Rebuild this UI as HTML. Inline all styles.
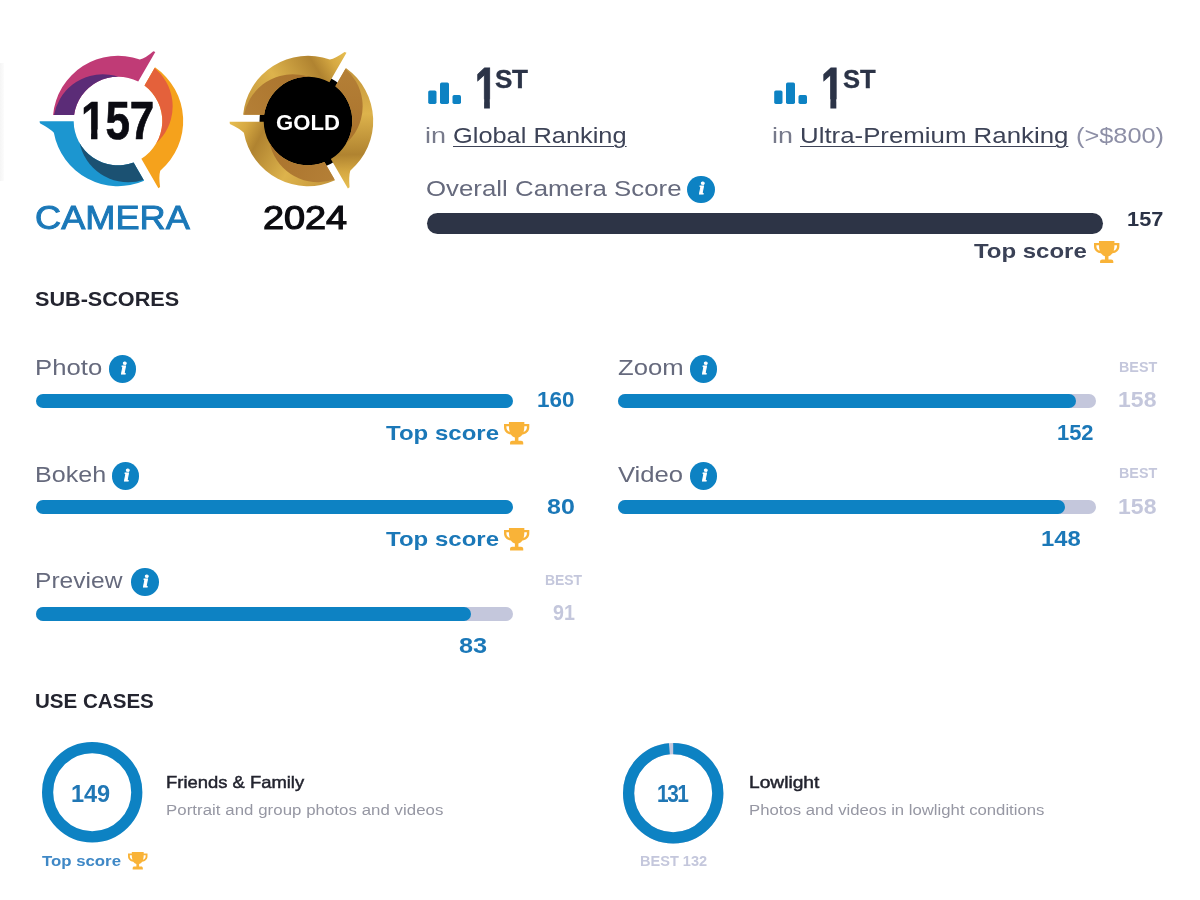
<!DOCTYPE html>
<html lang="en"><head><meta charset="utf-8"><title>Camera score</title>
<style>
html,body{margin:0;padding:0;background:#fff;}
body{width:1200px;height:900px;position:relative;overflow:hidden;font-family:"Liberation Sans",sans-serif;}
.t{position:absolute;white-space:nowrap;margin:0;padding:0;transform-origin:0 50%;}
.abs{position:absolute;overflow:visible;}
.bar{position:absolute;}
.info{position:absolute;border-radius:50%;background:#0d82c3;color:#fff;text-align:center;}
.info span{position:absolute;left:0;right:0;top:50%;transform:translate(0.8px,-50%) scaleX(1.15);font-family:"Liberation Serif",serif;font-style:italic;font-weight:700;font-size:16.5px;line-height:1;-webkit-text-stroke:0.8px #fff;}
.edge{position:absolute;left:0;top:63px;width:4px;height:118px;background:linear-gradient(90deg,#f5f5f5,#fcfcfc);}
</style></head><body>
<div class="edge"></div>
<svg class="abs" style="left:33.40px;top:35.80px" width="170" height="170" viewBox="-85 -85 170 170"><defs><clipPath id="clc0"><path d="M-78.40 0.20 L-44.30 0.20 A44.3 44.3 0 0 0 15.62 41.45 L26.17 59.72 A65.2 65.2 0 0 1 -64.13 11.77 Q-68.13 7.57 -78.10 2.30 Z"/></clipPath><clipPath id="clc1"><path d="M-78.40 2.20 L-44.25 2.20 A44.3 44.3 0 0 0 16.75 41.01 L27.27 59.23 A65.2 65.2 0 0 1 -64.13 11.77 Q-68.13 7.57 -78.10 4.30 Z"/></clipPath><clipPath id="clc2"><path d="M-78.40 1.40 L-44.28 1.40 A44.3 44.3 0 0 0 17.49 40.70 L27.99 58.88 A65.2 65.2 0 0 1 -64.13 11.77 Q-68.13 7.57 -78.10 3.50 Z"/></clipPath></defs><g transform="rotate(0)"><path d="M-78.40 0.20 L-44.30 0.20 A44.3 44.3 0 0 0 15.62 41.45 L26.17 59.72 A65.2 65.2 0 0 1 -64.13 11.77 Q-68.13 7.57 -78.10 2.30 Z" fill="#1c96d0"/><circle cx="10.17" cy="11.7" r="49.6" fill="#1b5172" clip-path="url(#clc0)"/></g><g transform="rotate(120)"><path d="M-78.40 2.20 L-44.25 2.20 A44.3 44.3 0 0 0 16.75 41.01 L27.27 59.23 A65.2 65.2 0 0 1 -64.13 11.77 Q-68.13 7.57 -78.10 4.30 Z" fill="#c03b76"/><circle cx="10.17" cy="11.7" r="49.6" fill="#5b2c77" clip-path="url(#clc1)"/></g><g transform="rotate(240)"><path d="M-78.40 1.40 L-44.28 1.40 A44.3 44.3 0 0 0 17.49 40.70 L27.99 58.88 A65.2 65.2 0 0 1 -64.13 11.77 Q-68.13 7.57 -78.10 3.50 Z" fill="#f5a21c"/><circle cx="10.17" cy="11.7" r="49.6" fill="#e4613b" clip-path="url(#clc2)"/></g></svg>
<svg class="abs" style="left:222.90px;top:35.70px" width="170" height="170" viewBox="-85 -85 170 170"><defs><clipPath id="glc0"><path d="M-78.40 0.80 L-44.29 0.80 A44.3 44.3 0 0 0 16.47 41.12 L26.99 59.35 A65.2 65.2 0 0 1 -64.13 11.77 Q-68.13 7.57 -78.10 2.90 Z"/></clipPath><clipPath id="glc1"><path d="M-78.40 0.80 L-44.29 0.80 A44.3 44.3 0 0 0 16.47 41.12 L26.99 59.35 A65.2 65.2 0 0 1 -64.13 11.77 Q-68.13 7.57 -78.10 2.90 Z"/></clipPath><clipPath id="glc2"><path d="M-78.40 0.80 L-44.29 0.80 A44.3 44.3 0 0 0 16.47 41.12 L26.99 59.35 A65.2 65.2 0 0 1 -64.13 11.77 Q-68.13 7.57 -78.10 2.90 Z"/></clipPath><linearGradient id="gg0" gradientUnits="userSpaceOnUse" x1="-74" y1="-6" x2="34" y2="52"><stop offset="0" stop-color="#e6bd50"/><stop offset="0.13" stop-color="#d6a942"/><stop offset="0.27" stop-color="#b08330"/><stop offset="0.6" stop-color="#ddb34c"/><stop offset="1" stop-color="#c2933a"/></linearGradient><linearGradient id="gg1" gradientUnits="userSpaceOnUse" x1="-40" y1="20" x2="25" y2="55"><stop offset="0" stop-color="#a9722c"/><stop offset="1" stop-color="#b47f36"/></linearGradient></defs><circle r="48.5" fill="#000"/><g transform="rotate(0)"><path d="M-78.40 0.80 L-44.29 0.80 A44.3 44.3 0 0 0 16.47 41.12 L26.99 59.35 A65.2 65.2 0 0 1 -64.13 11.77 Q-68.13 7.57 -78.10 2.90 Z" fill="url(#gg0)"/><circle cx="10.17" cy="11.7" r="49.6" fill="url(#gg1)" clip-path="url(#glc0)"/></g><g transform="rotate(120)"><path d="M-78.40 0.80 L-44.29 0.80 A44.3 44.3 0 0 0 16.47 41.12 L26.99 59.35 A65.2 65.2 0 0 1 -64.13 11.77 Q-68.13 7.57 -78.10 2.90 Z" fill="url(#gg0)"/><circle cx="10.17" cy="11.7" r="49.6" fill="url(#gg1)" clip-path="url(#glc1)"/></g><g transform="rotate(240)"><path d="M-78.40 0.80 L-44.29 0.80 A44.3 44.3 0 0 0 16.47 41.12 L26.99 59.35 A65.2 65.2 0 0 1 -64.13 11.77 Q-68.13 7.57 -78.10 2.90 Z" fill="url(#gg0)"/><circle cx="10.17" cy="11.7" r="49.6" fill="url(#gg1)" clip-path="url(#glc2)"/></g><circle r="43.6" fill="#000"/></svg>
<svg class="abs" style="left:428px;top:82px" width="34" height="23" viewBox="0 0 34 23"><rect x="0.2" y="8.4" width="8.3" height="13.6" rx="1.7" fill="#0d82c3"/><rect x="12" y="0.5" width="9" height="21.5" rx="1.7" fill="#0d82c3"/><rect x="24.5" y="13" width="8.5" height="9" rx="1.7" fill="#0d82c3"/></svg>
<svg class="abs" style="left:773.7px;top:82px" width="34" height="23" viewBox="0 0 34 23"><rect x="0.2" y="8.4" width="8.3" height="13.6" rx="1.7" fill="#0d82c3"/><rect x="12" y="0.5" width="9" height="21.5" rx="1.7" fill="#0d82c3"/><rect x="24.5" y="13" width="8.5" height="9" rx="1.7" fill="#0d82c3"/></svg>
<div class="info" style="left:687.20px;top:175.60px;width:27.60px;height:27.60px;"><span>i</span></div>
<div class="bar" style="left:426.5px;top:213px;width:676px;height:21px;background:#2d3446;border-radius:10.5px"></div>
<svg class="abs" style="left:1093.8px;top:241.2px" width="25.4" height="22" viewBox="0.5 1 23 22" preserveAspectRatio="none"><path fill="#f9b338" fill-rule="evenodd" d="M5 1 H19 V3 H23.5 V6.5 C23.5 10.5 20.5 13 17.3 13.3 C16.3 14.8 15 15.8 13.6 16.3 V19.5 H16 C17.2 19.5 18 20.3 18 21.5 V23 H6 V21.5 C6 20.3 6.8 19.5 8 19.5 H10.4 V16.3 C9 15.8 7.7 14.8 6.7 13.3 C3.5 13 0.5 10.5 0.5 6.5 V3 H5 Z M5 5.2 H2.7 V6.5 C2.7 8.6 4 10.2 5.7 10.8 C5.2 9.2 5 7.3 5 5.2 Z M19 5.2 C19 7.3 18.8 9.2 18.3 10.8 C20 10.2 21.3 8.6 21.3 6.5 V5.2 Z"/></svg>
<div class="info" style="left:108.50px;top:355.00px;width:27.60px;height:27.60px;"><span>i</span></div><div class="bar" style="left:35.7px;top:394px;width:477.5px;height:14.2px;background:#0d82c3;border-radius:7.1px"></div><svg class="abs" style="left:504.3px;top:421.8px" width="25.3" height="22.4" viewBox="0.5 1 23 22" preserveAspectRatio="none"><path fill="#f9b338" fill-rule="evenodd" d="M5 1 H19 V3 H23.5 V6.5 C23.5 10.5 20.5 13 17.3 13.3 C16.3 14.8 15 15.8 13.6 16.3 V19.5 H16 C17.2 19.5 18 20.3 18 21.5 V23 H6 V21.5 C6 20.3 6.8 19.5 8 19.5 H10.4 V16.3 C9 15.8 7.7 14.8 6.7 13.3 C3.5 13 0.5 10.5 0.5 6.5 V3 H5 Z M5 5.2 H2.7 V6.5 C2.7 8.6 4 10.2 5.7 10.8 C5.2 9.2 5 7.3 5 5.2 Z M19 5.2 C19 7.3 18.8 9.2 18.3 10.8 C20 10.2 21.3 8.6 21.3 6.5 V5.2 Z"/></svg>
<div class="info" style="left:111.70px;top:462.00px;width:27.60px;height:27.60px;"><span>i</span></div><div class="bar" style="left:35.7px;top:500.2px;width:477.5px;height:14.2px;background:#0d82c3;border-radius:7.1px"></div><svg class="abs" style="left:504.3px;top:528.0px" width="25.3" height="22.4" viewBox="0.5 1 23 22" preserveAspectRatio="none"><path fill="#f9b338" fill-rule="evenodd" d="M5 1 H19 V3 H23.5 V6.5 C23.5 10.5 20.5 13 17.3 13.3 C16.3 14.8 15 15.8 13.6 16.3 V19.5 H16 C17.2 19.5 18 20.3 18 21.5 V23 H6 V21.5 C6 20.3 6.8 19.5 8 19.5 H10.4 V16.3 C9 15.8 7.7 14.8 6.7 13.3 C3.5 13 0.5 10.5 0.5 6.5 V3 H5 Z M5 5.2 H2.7 V6.5 C2.7 8.6 4 10.2 5.7 10.8 C5.2 9.2 5 7.3 5 5.2 Z M19 5.2 C19 7.3 18.8 9.2 18.3 10.8 C20 10.2 21.3 8.6 21.3 6.5 V5.2 Z"/></svg>
<div class="info" style="left:131.20px;top:568.20px;width:27.60px;height:27.60px;"><span>i</span></div><div class="bar" style="left:35.7px;top:607.2px;width:477.5px;height:14.2px;background:#c4c7dc;border-radius:7.1px"></div><div class="bar" style="left:35.7px;top:607.2px;width:435px;height:14.2px;background:#0d82c3;border-radius:7.1px"></div>
<div class="info" style="left:689.80px;top:355.20px;width:27.60px;height:27.60px;"><span>i</span></div><div class="bar" style="left:617.6px;top:394px;width:478px;height:14.2px;background:#c4c7dc;border-radius:7.1px"></div><div class="bar" style="left:617.6px;top:394px;width:458.6px;height:14.2px;background:#0d82c3;border-radius:7.1px"></div>
<div class="info" style="left:689.80px;top:462.20px;width:27.60px;height:27.60px;"><span>i</span></div><div class="bar" style="left:617.6px;top:500.2px;width:478px;height:14.2px;background:#c4c7dc;border-radius:7.1px"></div><div class="bar" style="left:617.6px;top:500.2px;width:447.5px;height:14.2px;background:#0d82c3;border-radius:7.1px"></div>
<svg class="abs" style="left:41.05px;top:741.3px" width="102.4" height="102.4" viewBox="-51.2 -51.2 102.4 102.4"><circle r="44.6" fill="none" stroke="#0d82c3" stroke-width="11.2"/></svg>
<svg class="abs" style="left:128px;top:852.3px" width="19.5" height="17.4" viewBox="0.5 1 23 22" preserveAspectRatio="none"><path fill="#f9b338" fill-rule="evenodd" d="M5 1 H19 V3 H23.5 V6.5 C23.5 10.5 20.5 13 17.3 13.3 C16.3 14.8 15 15.8 13.6 16.3 V19.5 H16 C17.2 19.5 18 20.3 18 21.5 V23 H6 V21.5 C6 20.3 6.8 19.5 8 19.5 H10.4 V16.3 C9 15.8 7.7 14.8 6.7 13.3 C3.5 13 0.5 10.5 0.5 6.5 V3 H5 Z M5 5.2 H2.7 V6.5 C2.7 8.6 4 10.2 5.7 10.8 C5.2 9.2 5 7.3 5 5.2 Z M19 5.2 C19 7.3 18.8 9.2 18.3 10.8 C20 10.2 21.3 8.6 21.3 6.5 V5.2 Z"/></svg>
<svg class="abs" style="left:621.8px;top:741.5px" width="102.4" height="102.4" viewBox="-51.2 -51.2 102.4 102.4"><circle r="44.6" fill="none" stroke="#c4c7dc" stroke-width="11.2"/><circle r="44.6" fill="none" stroke="#0d82c3" stroke-width="11.2" stroke-dasharray="275.89 280.23" transform="rotate(-90)"/></svg>
<div class="t" id="camera" style="left:34.54px;top:195.00px;font-size:32.60px;line-height:46px;letter-spacing:0.012px;font-weight:400;color:#1b78b8;transform:scale(1.1107,1);-webkit-text-stroke:0.9px #1b78b8;">CAMERA</div>
<div class="t" id="y2024" style="left:263.22px;top:195.00px;font-size:32.60px;line-height:46px;letter-spacing:-0.078px;font-weight:400;color:#0c0c10;transform:scale(1.1619,1);-webkit-text-stroke:1.15px #0c0c10;">2024</div>
<div class="t" id="n157" style="left:81.47px;top:82.00px;font-size:53.60px;line-height:76px;letter-spacing:-0.053px;font-weight:700;color:#0b0b12;transform:scale(0.8211,1);-webkit-text-stroke:0.7px #0b0b12;clip-path:polygon(0 0,100% 0,100% 100%,29.37px 100%,29.37px 47.46px,20.05px 47.46px,20.05px 100%,12.27px 100%,12.27px 47.46px,0 47.46px);">157</div>
<div class="t" id="gold" style="left:276.25px;top:107.00px;font-size:22.60px;line-height:32px;letter-spacing:0.070px;font-weight:700;color:#ffffff;transform:scale(0.9784,1);">GOLD</div>
<div class="t" id="one1" style="left:474.76px;top:55.00px;font-size:48.00px;line-height:68px;letter-spacing:0.000px;font-weight:700;color:#2b3347;transform:scale(0.8276,1.21);-webkit-text-stroke:0.9px #2b3347;clip-path:polygon(0 0,100% 0,100% 42.47px,17.95px 42.47px,17.95px 100%,10.99px 100%,10.99px 42.47px,0 42.47px);">1</div>
<div class="t" id="one2" style="left:821.15px;top:55.00px;font-size:48.00px;line-height:68px;letter-spacing:0.000px;font-weight:700;color:#2b3347;transform:scale(0.8537,1.21);-webkit-text-stroke:0.9px #2b3347;clip-path:polygon(0 0,100% 0,100% 42.47px,17.95px 42.47px,17.95px 100%,10.99px 100%,10.99px 42.47px,0 42.47px);">1</div>
<div class="t" id="r1st" style="left:494.92px;top:61.00px;font-size:26.00px;line-height:36px;letter-spacing:-0.283px;font-weight:700;color:#2b3347;transform:scale(1.0033,1);-webkit-text-stroke:0.35px #2b3347;">ST</div>
<div class="t" id="r2st" style="left:843.02px;top:61.00px;font-size:26.00px;line-height:36px;letter-spacing:-0.143px;font-weight:700;color:#2b3347;transform:scale(0.9844,1);-webkit-text-stroke:0.35px #2b3347;">ST</div>
<div class="t" id="in1" style="left:425.18px;top:119.00px;font-size:22.70px;line-height:32px;letter-spacing:0.057px;font-weight:400;color:#777a8b;transform:scale(1.1880,1);">in</div>
<div class="t" id="gr" style="left:452.62px;top:119.00px;font-size:22.70px;line-height:32px;letter-spacing:0.005px;font-weight:400;color:#3d4357;transform:scale(1.1185,1);text-decoration:underline;text-decoration-thickness:1.2px;text-underline-offset:2.6px;">Global Ranking</div>
<div class="t" id="in2" style="left:771.78px;top:119.00px;font-size:22.70px;line-height:32px;letter-spacing:-0.020px;font-weight:400;color:#777a8b;transform:scale(1.1850,1);">in</div>
<div class="t" id="upr" style="left:800.01px;top:119.00px;font-size:22.70px;line-height:32px;letter-spacing:0.003px;font-weight:400;color:#3d4357;transform:scale(1.1380,1);text-decoration:underline;text-decoration-thickness:1.2px;text-underline-offset:2.6px;">Ultra-Premium Ranking</div>
<div class="t" id="price" style="left:1076.36px;top:119.00px;font-size:22.70px;line-height:32px;letter-spacing:-0.014px;font-weight:400;color:#8d8fa6;transform:scale(1.1182,1);">(&gt;$800)</div>
<div class="t" id="overall" style="left:426.21px;top:174.00px;font-size:21.50px;line-height:30px;letter-spacing:0.016px;font-weight:400;color:#666a7d;transform:scale(1.2000,1);">Overall Camera Score</div>
<div class="t" id="v157" style="left:1127.14px;top:204.00px;font-size:20.80px;line-height:30px;letter-spacing:0.038px;font-weight:700;color:#2b3347;transform:scale(1.0471,1);">157</div>
<div class="t" id="top1" style="left:973.93px;top:236.00px;font-size:21.00px;line-height:30px;letter-spacing:-0.025px;font-weight:700;color:#3a4156;transform:scale(1.1435,1);">Top score</div>
<div class="t" id="subscores" style="left:35.44px;top:284.00px;font-size:21.00px;line-height:30px;letter-spacing:-0.011px;font-weight:700;color:#23242f;transform:scale(1.0303,1);">SUB-SCORES</div>
<div class="t" id="photo" style="left:34.53px;top:353.00px;font-size:21.40px;line-height:30px;letter-spacing:0.049px;font-weight:400;color:#666a7d;transform:scale(1.2000,1);">Photo</div>
<div class="t" id="v160" style="left:537.02px;top:385.00px;font-size:21.40px;line-height:30px;letter-spacing:0.033px;font-weight:700;color:#1b78b8;transform:scale(1.0505,1);">160</div>
<div class="t" id="top2" style="left:385.65px;top:418.00px;font-size:21.00px;line-height:30px;letter-spacing:0.012px;font-weight:700;color:#1b78b8;transform:scale(1.1429,1);">Top score</div>
<div class="t" id="bokeh" style="left:34.66px;top:460.00px;font-size:21.40px;line-height:30px;letter-spacing:-0.006px;font-weight:400;color:#666a7d;transform:scale(1.1730,1);">Bokeh</div>
<div class="t" id="v80" style="left:547.02px;top:492.00px;font-size:21.40px;line-height:30px;letter-spacing:0.030px;font-weight:700;color:#1b78b8;transform:scale(1.1657,1);">80</div>
<div class="t" id="top3" style="left:385.65px;top:524.00px;font-size:21.00px;line-height:30px;letter-spacing:0.012px;font-weight:700;color:#1b78b8;transform:scale(1.1429,1);">Top score</div>
<div class="t" id="preview" style="left:35.28px;top:566.00px;font-size:21.40px;line-height:30px;letter-spacing:0.026px;font-weight:400;color:#666a7d;transform:scale(1.1478,1);">Preview</div>
<div class="t" id="bestp" style="left:545.07px;top:570.00px;font-size:14.00px;line-height:20px;letter-spacing:-0.019px;font-weight:700;color:#c4c7dc;transform:scale(0.9952,1);">BEST</div>
<div class="t" id="v91" style="left:553.24px;top:598.00px;font-size:21.40px;line-height:30px;letter-spacing:0.095px;font-weight:700;color:#c4c7dc;transform:scale(0.9191,1);">91</div>
<div class="t" id="v83" style="left:458.98px;top:631.00px;font-size:21.40px;line-height:30px;letter-spacing:0.027px;font-weight:700;color:#1b78b8;transform:scale(1.1836,1);">83</div>
<div class="t" id="zoom" style="left:617.54px;top:353.00px;font-size:21.40px;line-height:30px;letter-spacing:-0.000px;font-weight:400;color:#666a7d;transform:scale(1.2000,1);">Zoom</div>
<div class="t" id="bestz" style="left:1119.10px;top:357.00px;font-size:14.00px;line-height:20px;letter-spacing:0.000px;font-weight:700;color:#c4c7dc;transform:scale(1.0228,1);">BEST</div>
<div class="t" id="v158a" style="left:1117.91px;top:385.00px;font-size:21.40px;line-height:30px;letter-spacing:0.063px;font-weight:700;color:#c4c7dc;transform:scale(1.0733,1);">158</div>
<div class="t" id="v152" style="left:1056.55px;top:418.00px;font-size:21.40px;line-height:30px;letter-spacing:-0.009px;font-weight:700;color:#1b78b8;transform:scale(1.0246,1);">152</div>
<div class="t" id="video" style="left:617.90px;top:460.00px;font-size:21.40px;line-height:30px;letter-spacing:-0.028px;font-weight:400;color:#666a7d;transform:scale(1.2000,1);">Video</div>
<div class="t" id="bestv" style="left:1119.10px;top:463.00px;font-size:14.00px;line-height:20px;letter-spacing:0.000px;font-weight:700;color:#c4c7dc;transform:scale(1.0228,1);">BEST</div>
<div class="t" id="v158b" style="left:1117.91px;top:492.00px;font-size:21.40px;line-height:30px;letter-spacing:0.063px;font-weight:700;color:#c4c7dc;transform:scale(1.0733,1);">158</div>
<div class="t" id="v148" style="left:1040.91px;top:524.00px;font-size:21.40px;line-height:30px;letter-spacing:-0.007px;font-weight:700;color:#1b78b8;transform:scale(1.1144,1);">148</div>
<div class="t" id="usecases" style="left:34.76px;top:686.00px;font-size:21.00px;line-height:30px;letter-spacing:-0.004px;font-weight:700;color:#23242f;transform:scale(0.9794,1);">USE CASES</div>
<div class="t" id="v149" style="left:70.93px;top:778.00px;font-size:23.40px;line-height:32px;letter-spacing:-0.083px;font-weight:700;color:#2077b5;transform:scale(1.0066,1);">149</div>
<div class="t" id="tops" style="left:42.43px;top:851.00px;font-size:15.00px;line-height:20px;letter-spacing:-0.003px;font-weight:700;color:#3f88c6;transform:scale(1.1195,1);">Top score</div>
<div class="t" id="ff" style="left:166.45px;top:770.00px;font-size:16.50px;line-height:24px;letter-spacing:0.003px;font-weight:400;color:#23242f;transform:scale(1.1158,1);-webkit-text-stroke:0.45px #23242f;">Friends &amp; Family</div>
<div class="t" id="ffd" style="left:166.46px;top:800.00px;font-size:14.00px;line-height:20px;letter-spacing:0.044px;font-weight:400;color:#9697a3;transform:scale(1.2000,1);">Portrait and group photos and videos</div>
<div class="t" id="v131" style="left:657.00px;top:778.00px;font-size:23.20px;line-height:32px;letter-spacing:-1.600px;font-weight:700;color:#2077b5;transform:scale(0.9000,1);">131</div>
<div class="t" id="best132" style="left:639.66px;top:851.00px;font-size:14.00px;line-height:20px;letter-spacing:0.012px;font-weight:700;color:#c4c7dc;transform:scale(1.0376,1);">BEST 132</div>
<div class="t" id="ll" style="left:749.12px;top:770.00px;font-size:16.50px;line-height:24px;letter-spacing:-0.016px;font-weight:400;color:#23242f;transform:scale(1.1645,1);-webkit-text-stroke:0.45px #23242f;">Lowlight</div>
<div class="t" id="lld" style="left:748.57px;top:800.00px;font-size:14.00px;line-height:20px;letter-spacing:0.001px;font-weight:400;color:#9697a3;transform:scale(1.1935,1);">Photos and videos in lowlight conditions</div>
</body></html>
